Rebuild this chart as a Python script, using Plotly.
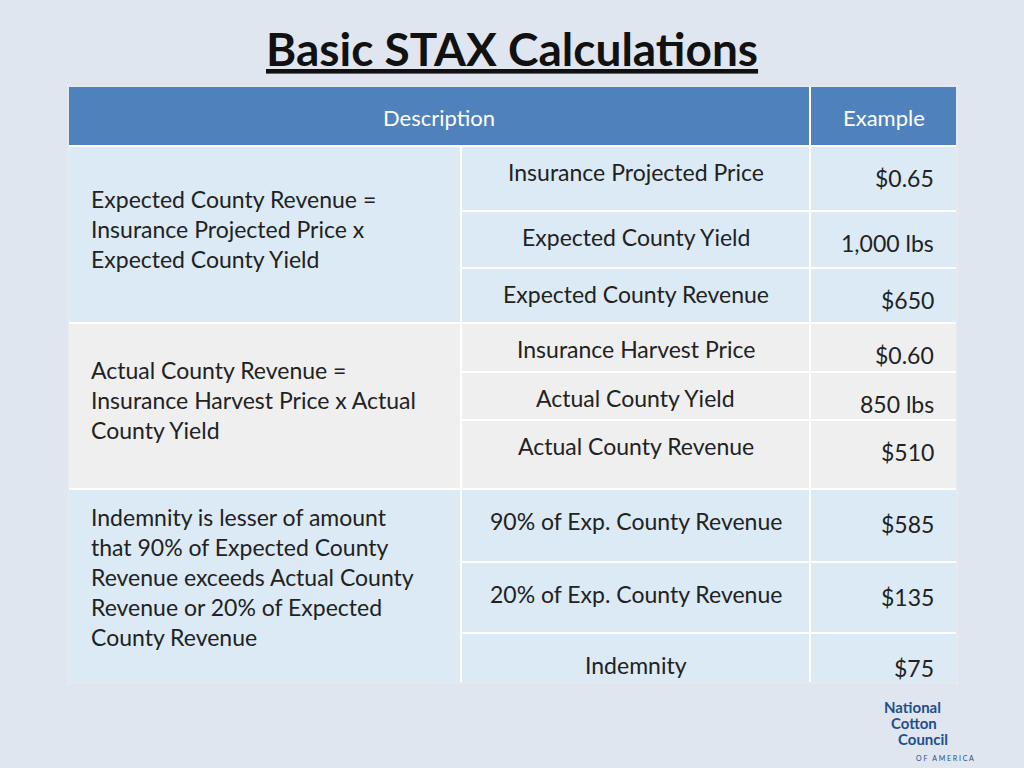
import plotly.graph_objects as go

# table content
headers = ["Description", "Example"]
group_text = [
    "Expected County Revenue =<br>Insurance Projected Price x<br>Expected County Yield",
    "Actual County Revenue =<br>Insurance Harvest Price x Actual<br>County Yield",
    "Indemnity is lesser of amount<br>that 90% of Expected County<br>Revenue exceeds Actual County<br>Revenue or 20% of Expected<br>County Revenue",
]
items = [
    ["Insurance Projected Price", "Expected County Yield", "Expected County Revenue"],
    ["Insurance Harvest Price", "Actual County Yield", "Actual County Revenue"],
    ["90% of Exp. County Revenue", "20% of Exp. County Revenue", "Indemnity"],
]
examples = [
    ["$0.65", "1,000 lbs", "$650"],
    ["$0.60", "850 lbs", "$510"],
    ["$585", "$135", "$75"],
]

# geometry (pixels)
col_x = [68, 461, 810, 957]
head_y = [86, 146]
row_y = [[146, 211, 268, 323], [323, 372, 420, 489], [489, 562, 633, 683]]
group_bg = ["#dbeaf4", "#efefef", "#dbeaf4"]
FONT = "Lato"

fig = go.Figure()
shapes, ann = [], []


def rect(x0, y0, x1, y1, fill, line="white", w=2):
    shapes.append(dict(type="rect", xref="x", yref="y", x0=x0, y0=y0, x1=x1, y1=y1,
                       fillcolor=fill, line=dict(color=line, width=w), layer="below"))


def text(x, y, s, size=23, color="#222222", xanchor="center", yanchor="middle", align="center"):
    ann.append(dict(x=x, y=y, xref="x", yref="y", text=s, showarrow=False,
                    font=dict(family=FONT, size=size, color=color),
                    xanchor=xanchor, yanchor=yanchor, align=align))


# header
rect(col_x[0], head_y[0], col_x[2], head_y[1], "#4f81bd")
rect(col_x[2], head_y[0], col_x[3], head_y[1], "#4f81bd")
text((col_x[0] + col_x[2]) / 2, 117, headers[0], size=22, color="white")
text((col_x[2] + col_x[3]) / 2, 117, headers[1], size=22, color="white")

for g in range(3):
    ys = row_y[g]
    rect(col_x[0], ys[0], col_x[1], ys[3], group_bg[g])
    text(89, (ys[0] + ys[3]) / 2 - 6 if g < 2 else ys[0] + 12, group_text[g],
         xanchor="left", yanchor="middle" if g < 2 else "top", align="left")
    for r in range(3):
        rect(col_x[1], ys[r], col_x[2], ys[r + 1], group_bg[g])
        rect(col_x[2], ys[r], col_x[3], ys[r + 1], group_bg[g])
        text((col_x[1] + col_x[2]) / 2, ys[r] + 26 if g < 2 else ys[r] + 32, items[g][r])
        text(936, ys[r] + 32 if g < 2 else ys[r] + 35, examples[g][r], xanchor="right")

# outer border
shapes.append(dict(type="rect", xref="x", yref="y", x0=col_x[0], y0=head_y[0], x1=col_x[3], y1=683,
                   line=dict(color="#c8d3de", width=1)))

# title
text(512, 48, "<b><u>Basic STAX Calculations</u></b>", size=46, color="#111111")

# logo
for i, word in enumerate(["National", "Cotton", "Council"]):
    text(882 + 7 * i, 707 + 16 * i, "<b>" + word + "</b>", size=15, color="#1f4e8c", xanchor="left")
text(945, 758, "O F   A M E R I C A", size=7, color="#1f4e8c")

fig.update_layout(
    width=1024, height=768, margin=dict(l=0, r=0, t=0, b=0),
    paper_bgcolor="#dfe6ef", plot_bgcolor="#dfe6ef",
    xaxis=dict(range=[0, 1024], visible=False, fixedrange=True),
    yaxis=dict(range=[768, 0], visible=False, fixedrange=True),
    shapes=shapes, annotations=ann, showlegend=False,
)
fig.write_html("out.html", config={"displayModeBar": False},
               post_script="document.body.style.margin='0';")
